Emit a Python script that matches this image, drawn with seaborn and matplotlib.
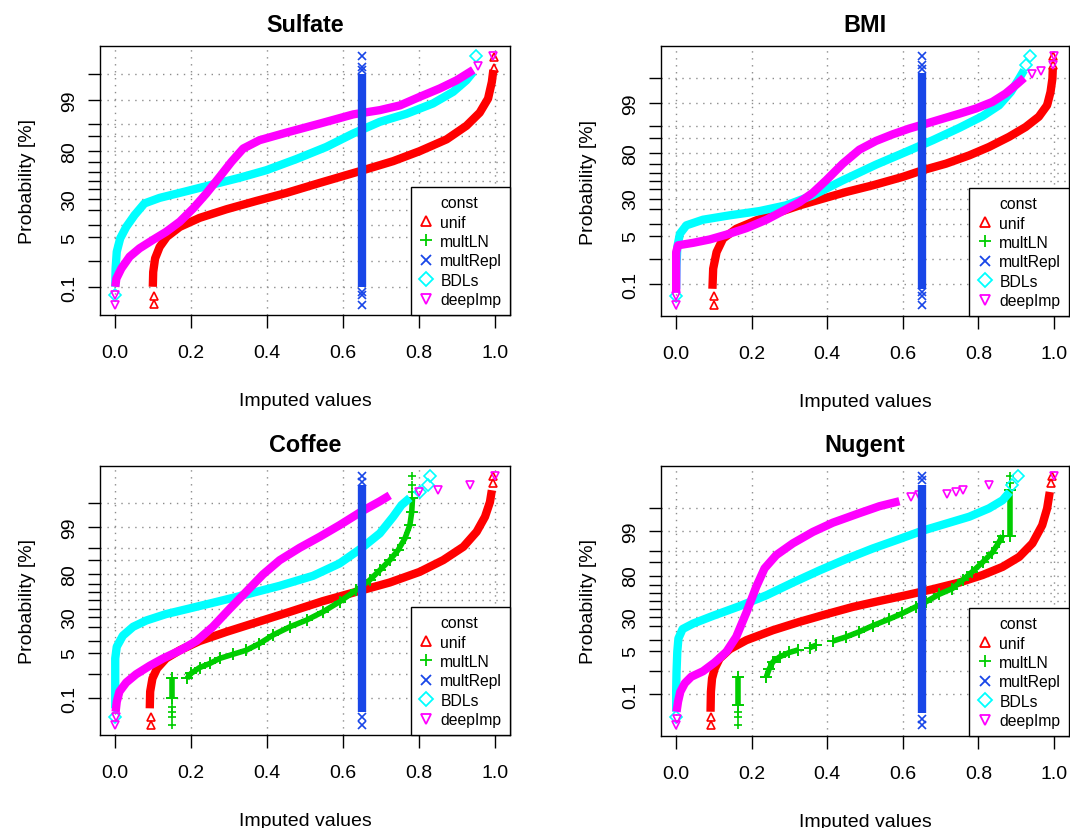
import numpy as np
import pandas as pd
import seaborn as sns
import matplotlib.pyplot as plt
from matplotlib.lines import Line2D
from statistics import NormalDist

sns.set_style('white')
plt.rcParams['font.family'] = ['Liberation Sans', 'DejaVu Sans']
plt.rcParams['text.color'] = 'black'
plt.rcParams['axes.labelcolor'] = 'black'
plt.rcParams['xtick.color'] = 'black'
plt.rcParams['ytick.color'] = 'black'

methods = ['const', 'unif', 'multLN', 'multRepl', 'BDLs', 'deepImp']
colors = {'unif': '#ff0000', 'multLN': '#00cd00', 'multRepl': '#1846e8',
          'BDLs': '#00ffff', 'deepImp': '#ff00ff'}
markers = {'unif': '^', 'multLN': '+', 'multRepl': 'x', 'BDLs': 'D', 'deepImp': 'v'}

prob_ticks = [0.1, 1, 5, 10, 20, 30, 40, 50, 60, 70, 80, 90, 95, 99, 99.9]
prob_labels = ['0.1', '', '5', '', '', '30', '', '', '', '', '80', '', '', '99', '']
x_ticks = [0, 0.2, 0.4, 0.6, 0.8, 1.0]
x_labels = ['0.0', '0.2', '0.4', '0.6', '0.8', '1.0']

# ---- Sulfate ----
sulf_unif_x = [0.099, 0.100, 0.105, 0.117, 0.136, 0.170, 0.222, 0.293, 0.372, 0.451,
               0.539, 0.644, 0.732, 0.802, 0.873, 0.925, 0.960, 0.982, 0.992, 0.996]
sulf_unif_p = [0.107, 0.41, 1.22, 2.75, 5.2, 9.0, 14.0, 20.3, 27.8, 36.0,
               47.3, 60.6, 71.2, 80.2, 88.3, 94.3, 97.5, 99.1, 99.78, 99.93]
sulf_unif_tx = [0.101, 0.101, 0.997, 0.997]
sulf_unif_tp = [0.018, 0.043, 99.94, 99.982]

sulf_repl_x = [0.65, 0.65]
sulf_repl_p = [0.1, 99.9]
sulf_repl_tx = [0.65, 0.65, 0.65, 0.65, 0.65, 0.65]
sulf_repl_tp = [0.016, 0.047, 0.066, 99.93, 99.95, 99.984]

sulf_bdl_x = [0.0, 0.001, 0.004, 0.013, 0.029, 0.051, 0.077, 0.117, 0.187, 0.257, 0.328,
              0.398, 0.477, 0.556, 0.627, 0.697, 0.767, 0.837, 0.890, 0.925, 0.943]
sulf_bdl_p = [0.107, 0.55, 1.97, 4.7, 9.0, 15.9, 25.4, 30.8, 37.8, 45.4, 53.2,
              61.7, 73.2, 83.4, 91.3, 95.5, 97.3, 98.7, 99.48, 99.81, 99.915]
sulf_bdl_tx = [0.0, 0.949]
sulf_bdl_tp = [0.047, 99.984]

sulf_deep_x = [0.0, 0.003, 0.016, 0.038, 0.064, 0.099, 0.134, 0.170, 0.205, 0.240, 0.275, 0.306,
               0.337, 0.380, 0.451, 0.539, 0.627, 0.697, 0.750, 0.802, 0.855, 0.899, 0.943]
sulf_deep_p = [0.107, 0.23, 0.55, 1.39, 2.5, 4.3, 6.9, 11.7, 20.9, 35.4, 54.2, 70.5,
               82.2, 87.8, 91.7, 95.0, 97.2, 97.9, 98.5, 99.22, 99.61, 99.81, 99.93]
sulf_deep_tx = [0.0, 0.0, 0.956, 0.996]
sulf_deep_tp = [0.016, 0.047, 99.953, 99.984]

# ---- BMI ----
bmi_unif_x = [0.096, 0.098, 0.107, 0.124, 0.159, 0.212, 0.274, 0.327, 0.388, 0.450, 0.520, 0.599,
              0.652, 0.714, 0.776, 0.828, 0.881, 0.925, 0.960, 0.982, 0.991, 0.996, 0.997]
bmi_unif_p = [0.062, 0.43, 1.66, 4.2, 7.6, 11.9, 17.6, 23.3, 29.8, 37.1, 44.8, 54.8,
              62.6, 69.8, 77.9, 84.6, 90.7, 94.7, 97.3, 98.84, 99.62, 99.893, 99.962]
bmi_unif_tx = [0.0995, 0.0995, 0.997, 0.997]
bmi_unif_tp = [0.0096, 0.028, 99.974, 99.991]

bmi_repl_x = [0.651, 0.651]
bmi_repl_p = [0.06, 99.94]
bmi_repl_tx = [0.651, 0.651, 0.651, 0.651, 0.651, 0.651]
bmi_repl_tp = [0.0096, 0.030, 0.043, 99.962, 99.974, 99.991]

bmi_bdl_x = [0.0, 0.001, 0.003, 0.010, 0.027, 0.071, 0.142, 0.221, 0.291, 0.362,
             0.441, 0.529, 0.608, 0.679, 0.749, 0.811, 0.855, 0.886, 0.908, 0.921]
bmi_bdl_p = [0.062, 0.57, 2.4, 5.7, 9.2, 12.3, 15.2, 18.4, 23.3, 33.4,
             50.8, 68.8, 80.8, 88.9, 94.4, 97.4, 98.84, 99.62, 99.893, 99.955]
bmi_bdl_tx = [0.0, 0.925, 0.936]
bmi_bdl_tp = [0.030, 99.974, 99.991]

bmi_deep_x = [0.0, 0.0, 0.0, 0.005, 0.045, 0.089, 0.133, 0.186, 0.239, 0.291, 0.327, 0.362, 0.397,
              0.441, 0.485, 0.529, 0.573, 0.617, 0.661, 0.705, 0.749, 0.793, 0.837, 0.872, 0.903, 0.921]
bmi_deep_p = [0.043, 0.32, 1.66, 2.7, 3.2, 4.0, 5.4, 7.9, 12.3, 19.8, 26.4, 36.3, 50.8,
              69.8, 82.6, 88.5, 91.9, 94.2, 95.7, 96.9, 97.8, 98.5, 99.11, 99.56, 99.82, 99.90]
bmi_deep_tx = [0.0, 0.0, 0.943, 0.965, 0.997, 1.0]
bmi_deep_tp = [0.0096, 0.030, 99.936, 99.952, 99.974, 99.991]

# ---- Coffee ----
coff_unif_x = [0.091, 0.092, 0.098, 0.110, 0.134, 0.170, 0.222, 0.293, 0.372, 0.460,
               0.547, 0.635, 0.723, 0.802, 0.864, 0.917, 0.952, 0.974, 0.987, 0.992]
coff_unif_p = [0.033, 0.20, 0.69, 1.58, 3.36, 5.8, 10.0, 16.1, 24.5, 36.0,
               49.2, 60.8, 71.5, 81.7, 89.9, 95.5, 98.5, 99.59, 99.906, 99.975]
coff_unif_tx = [0.095, 0.095, 0.996, 0.996]
coff_unif_tp = [0.0042, 0.012, 99.989, 99.9958]

coff_mln_x = [0.149, 0.149, 0.189, 0.200, 0.222, 0.249, 0.275, 0.310, 0.345, 0.380, 0.416, 0.460,
              0.504, 0.547, 0.591, 0.635, 0.670, 0.697, 0.723, 0.745, 0.763, 0.776, 0.781, 0.783]
coff_mln_p = [0.10, 0.69, 0.69, 1.07, 1.7, 2.33, 3.36, 4.46, 5.8, 8.7, 13.8, 20.3,
              26.8, 36.0, 48.4, 62.9, 73.9, 83.1, 89.8, 94.4, 97.5, 99.13, 99.74, 99.936]
coff_mln_seg = [0, 0] + [1] * 22
coff_mln_tx = [0.149, 0.149, 0.149, 0.149, 0.783, 0.783, 0.783]
coff_mln_tp = [0.0042, 0.012, 0.022, 0.040, 99.97, 99.986, 99.9958]

coff_repl_x = [0.650, 0.650]
coff_repl_p = [0.022, 99.986]
coff_repl_tx = [0.650, 0.650, 0.650, 0.650]
coff_repl_tp = [0.0042, 0.012, 99.991, 99.9958]

coff_bdl_x = [0.0, 0.0, 0.0, 0.0, 0.004, 0.020, 0.047, 0.082, 0.134, 0.196,
              0.275, 0.345, 0.433, 0.521, 0.591, 0.650, 0.697, 0.732, 0.754, 0.776]
coff_bdl_p = [0.033, 0.20, 1.22, 3.36, 7.2, 13.3, 20.3, 26.4, 33.4, 40.1,
              49.2, 57.5, 67.8, 78.2, 87.9, 95.2, 98.3, 99.59, 99.87, 99.94]
coff_bdl_tx = [0.0, 0.802, 0.824, 0.829]
coff_bdl_tp = [0.012, 99.97, 99.987, 99.9958]

coff_deep_x = [0.001, 0.004, 0.011, 0.029, 0.055, 0.091, 0.126, 0.170, 0.214, 0.257,
               0.301, 0.345, 0.389, 0.433, 0.486, 0.539, 0.591, 0.650, 0.697, 0.723]
coff_deep_p = [0.022, 0.069, 0.20, 0.48, 0.99, 1.97, 3.36, 5.7, 10.0, 20.3,
               39.4, 60.8, 79.4, 89.8, 95.2, 97.8, 99.13, 99.76, 99.913, 99.955]
coff_deep_tx = [0.0, 0.003, 0.800, 0.851, 0.934, 1.0]
coff_deep_tp = [0.0042, 0.011, 99.97, 99.975, 99.987, 99.9958]

# ---- Nugent ----
nug_unif_x = [0.091, 0.092, 0.095, 0.102, 0.115, 0.142, 0.186, 0.256, 0.327, 0.397, 0.467,
              0.538, 0.608, 0.679, 0.749, 0.811, 0.864, 0.908, 0.943, 0.969, 0.982, 0.989]
nug_unif_p = [0.012, 0.13, 0.51, 1.25, 2.8, 5.5, 9.7, 16.6, 24.5, 33.0, 42.1,
              50.0, 57.5, 65.2, 72.9, 80.5, 87.1, 92.8, 97.2, 99.40, 99.893, 99.985]
nug_unif_tx = [0.093, 0.093, 0.991, 0.994]
nug_unif_tp = [0.0019, 0.006, 99.9952, 99.9983]

nug_mln_x = [0.164, 0.164, 0.239, 0.246, 0.256, 0.274, 0.300, 0.322, 0.353, 0.371,
             0.415, 0.450, 0.485, 0.520, 0.564, 0.599, 0.635, 0.661, 0.696, 0.731,
             0.758, 0.784, 0.811, 0.837, 0.855, 0.864, 0.883, 0.883]
nug_mln_p = [0.028, 0.60, 0.60, 1.19, 2.17, 3.2, 4.4, 5.2, 6.0, 7.2,
             9.2, 11.7, 15.4, 20.6, 27.4, 34.1, 42.5, 48.8, 58.7, 65.9,
             75.5, 83.4, 90.0, 94.6, 97.5, 98.5, 98.5, 99.988]
nug_mln_seg = [0, 0] + [1] * 6 + [2] * 2 + [3] * 16 + [4] * 2
nug_mln_tx = [0.164, 0.164, 0.164, 0.883, 0.883]
nug_mln_tp = [0.0019, 0.006, 0.012, 99.9952, 99.9983]

nug_repl_x = [0.651, 0.651]
nug_repl_p = [0.0096, 99.994]
nug_repl_tx = [0.651, 0.651, 0.651, 0.651]
nug_repl_tp = [0.0019, 0.0048, 99.997, 99.9983]

nug_bdl_x = [0.0, 0.0, 0.001, 0.003, 0.006, 0.017, 0.045, 0.098, 0.168, 0.239, 0.309,
             0.379, 0.450, 0.520, 0.591, 0.651, 0.714, 0.776, 0.828, 0.864, 0.883]
nug_bdl_p = [0.012, 0.13, 0.94, 4.6, 10.7, 17.6, 22.7, 31.2, 43.2, 57.5, 72.9,
             84.4, 91.8, 95.9, 98.0, 99.0, 99.48, 99.74, 99.893, 99.958, 99.985]
nug_bdl_tx = [0.0, 0.890, 0.906]
nug_bdl_tp = [0.006, 99.994, 99.9983]

nug_deep_x = [0.001, 0.005, 0.011, 0.023, 0.040, 0.071, 0.102, 0.133, 0.159, 0.186,
              0.212, 0.234, 0.265, 0.309, 0.362, 0.415, 0.485, 0.538, 0.591]
nug_deep_p = [0.012, 0.042, 0.13, 0.32, 0.60, 0.99, 2.07, 4.6, 11.7, 35.2,
              68.1, 86.0, 93.6, 97.2, 98.9, 99.53, 99.82, 99.916, 99.953]
nug_deep_tx = [0.0, 0.003, 0.621, 0.643, 0.718, 0.740, 0.760, 0.828, 1.0]
nug_deep_tp = [0.0019, 0.0048, 99.970, 99.978, 99.981, 99.984, 99.988, 99.994, 99.9983]

panels = [
    ('Sulfate', [0.0935, 0.6188, 0.3832, 0.3245], [
        ('unif', sulf_unif_x, sulf_unif_p, None, sulf_unif_tx, sulf_unif_tp),
        ('BDLs', sulf_bdl_x, sulf_bdl_p, None, sulf_bdl_tx, sulf_bdl_tp),
        ('deepImp', sulf_deep_x, sulf_deep_p, None, sulf_deep_tx, sulf_deep_tp),
        ('multRepl', sulf_repl_x, sulf_repl_p, None, sulf_repl_tx, sulf_repl_tp)]),
    ('BMI', [0.6178, 0.6176, 0.3813, 0.3257], [
        ('unif', bmi_unif_x, bmi_unif_p, None, bmi_unif_tx, bmi_unif_tp),
        ('BDLs', bmi_bdl_x, bmi_bdl_p, None, bmi_bdl_tx, bmi_bdl_tp),
        ('deepImp', bmi_deep_x, bmi_deep_p, None, bmi_deep_tx, bmi_deep_tp),
        ('multRepl', bmi_repl_x, bmi_repl_p, None, bmi_repl_tx, bmi_repl_tp)]),
    ('Coffee', [0.0935, 0.1122, 0.3832, 0.3245], [
        ('unif', coff_unif_x, coff_unif_p, None, coff_unif_tx, coff_unif_tp),
        ('multLN', coff_mln_x, coff_mln_p, coff_mln_seg, coff_mln_tx, coff_mln_tp),
        ('BDLs', coff_bdl_x, coff_bdl_p, None, coff_bdl_tx, coff_bdl_tp),
        ('deepImp', coff_deep_x, coff_deep_p, None, coff_deep_tx, coff_deep_tp),
        ('multRepl', coff_repl_x, coff_repl_p, None, coff_repl_tx, coff_repl_tp)]),
    ('Nugent', [0.6178, 0.1110, 0.3813, 0.3257], [
        ('unif', nug_unif_x, nug_unif_p, None, nug_unif_tx, nug_unif_tp),
        ('multLN', nug_mln_x, nug_mln_p, nug_mln_seg, nug_mln_tx, nug_mln_tp),
        ('BDLs', nug_bdl_x, nug_bdl_p, None, nug_bdl_tx, nug_bdl_tp),
        ('deepImp', nug_deep_x, nug_deep_p, None, nug_deep_tx, nug_deep_tp),
        ('multRepl', nug_repl_x, nug_repl_p, None, nug_repl_tx, nug_repl_tp)]),
]

_nd = NormalDist()
_ppf = np.vectorize(_nd.inv_cdf, otypes=[float])
_cdf = np.vectorize(_nd.cdf, otypes=[float])


def to_z(p):
    q = np.clip(np.asarray(p, dtype=float) / 100.0, 1e-12, 1 - 1e-12)
    return _ppf(q)


def to_p(z):
    return _cdf(np.clip(np.asarray(z, dtype=float), -30, 30)) * 100.0


fig = plt.figure(figsize=(10.7, 8.29), dpi=100)

for title, rect, series in panels:
    ax = fig.add_axes(rect)
    ax.set_yscale('function', functions=(to_z, to_p))
    all_p = []
    for m, x, p, seg, tx, tp in series:
        c = colors[m]
        z = 3 if m == 'multRepl' else 2
        df = pd.DataFrame({'x': x, 'p': p, 'seg': seg if seg is not None else [0] * len(x)})
        if m == 'multLN':
            sns.lineplot(data=df, x='x', y='p', units='seg', estimator=None, sort=False,
                         color=c, lw=4.0, ax=ax, zorder=z, solid_capstyle='butt')
            ax.plot(x, p, ls='none', marker='+', color=c, ms=9, mew=1.4, zorder=z)
        else:
            sns.lineplot(data=df, x='x', y='p', units='seg', estimator=None, sort=False,
                         color=c, lw=6.0, ax=ax, zorder=z, solid_capstyle='butt')
        ax.plot(tx, tp, ls='none', marker=markers[m], mfc='none', mec=c, ms=6, mew=1.2,
                zorder=z)
        all_p += list(p) + list(tp)

    zext = np.max(np.abs(to_z(all_p))) * 1.08
    ax.set_ylim(float(to_p(-zext)), float(to_p(zext)))
    ax.set_xlim(-0.04, 1.04)

    ax.set_yticks(prob_ticks)
    ax.set_yticklabels(prob_labels)
    ax.set_xticks(x_ticks)
    ax.set_xticklabels(x_labels)
    ax.minorticks_off()
    ax.grid(True, ls=(0, (1, 4)), color='#8c8c8c', lw=1.0)
    ax.set_axisbelow(True)

    ax.tick_params(axis='both', direction='out', length=9, width=1, color='black',
                   labelsize=14, labelcolor='black', bottom=True, left=True)
    ax.tick_params(axis='x', pad=12)
    ax.tick_params(axis='y', pad=7, labelrotation=90)
    for lab in ax.get_yticklabels():
        lab.set_va('center')
    for sp in ax.spines.values():
        sp.set_color('black')
        sp.set_linewidth(1.0)

    ax.set_xlabel('Imputed values', fontsize=14, labelpad=22)
    ax.set_ylabel('Probability [%]', fontsize=14, labelpad=18)
    ax.set_title(title, fontsize=16.8, fontweight='bold', pad=11, color='black')

    handles = [Line2D([], [], ls='none', marker='None', label='const')]
    for m in methods[1:]:
        handles.append(Line2D([], [], ls='none', marker=markers[m], mfc='none', mec=colors[m],
                              mew=1.3, ms=7 if m != 'multLN' else 9, label=m))
    leg = ax.legend(handles=handles, loc='lower right', borderaxespad=0, fancybox=False,
                    edgecolor='black', framealpha=1, fontsize=11.3, labelspacing=0.28,
                    handlelength=1.0, handletextpad=0.4, borderpad=0.5)
    leg.get_frame().set_linewidth(1.0)

fig.savefig('out.png', dpi=100, facecolor='white')
